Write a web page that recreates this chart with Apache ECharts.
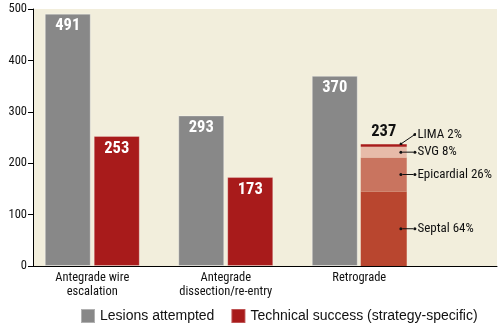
<!DOCTYPE html>
<html><head><meta charset="utf-8">
<script src="https://cdn.jsdelivr.net/npm/echarts@6/dist/echarts.min.js"></script>
<style>html,body{margin:0;padding:0;background:#fff}#c{width:502px;height:329px}</style>
</head><body><div id="c"></div>
<script>
// ---- data ----
const categories = ['Antegrade wire\nescalation', 'Antegrade\ndissection/re-entry', 'Retrograde'];
const lesionsAttempted = [491, 293, 370];
const technicalSuccess = [253, 173, 237];
const retroSegmentNames = ['Septal 64%', 'Epicardial 26%', 'SVG 8%', 'LIMA 2%'];
const retroSegmentValues = [145, 66, 21, 5];
const yTickMin = 0, yTickMax = 500, yTickStep = 100;

// ---- style ----
const NARROW = '"Roboto Condensed","DejaVu Sans Condensed",sans-serif';
const REG = '"Liberation Sans",Arial,sans-serif';
const GRAY = '#888888', RED = '#a81b1b', BG = '#f2eedc';
const segColors = ['#b9462f', '#c9745f', '#e7bba9', '#a81b1b'];

const diagSvg = 'data:image/svg+xml;utf8,' + encodeURIComponent(
  '<svg xmlns="http://www.w3.org/2000/svg" width="17" height="22">' +
  '<line x1="1.5" y1="20.5" x2="15.5" y2="11" stroke="#111" stroke-width="1"/>' +
  '<circle cx="1.5" cy="20.5" r="1.5" fill="#111"/><circle cx="15.5" cy="11" r="1.5" fill="#111"/></svg>');

const richCommon = {
  dot: {width: 3, height: 3, borderRadius: 1.5, backgroundColor: '#111', verticalAlign: 'middle'},
  ln: {width: 11, height: 1, backgroundColor: '#111', verticalAlign: 'middle'},
  t: {fontFamily: NARROW, fontSize: 13, color: '#111', padding: [0, 0, 0, 1], verticalAlign: 'middle', lineHeight: 16},
  diag: {width: 17, height: 22, backgroundColor: {image: diagSvg}, verticalAlign: 'middle'}
};

const chart = echarts.init(document.getElementById('c'), null, {renderer: 'canvas'});

const segSeries = retroSegmentNames.map((nm, i) => ({
  name: nm, type: 'bar', xAxisIndex: 1, yAxisIndex: 1, stack: 'ts',
  barWidth: 46, barGap: '6.5%',
  data: categories.map((c, k) => k === 2 ? retroSegmentValues[i] : '-'),
  itemStyle: {color: segColors[i]},
  label: i === 3 ? {
    show: true, position: ['84%', '50%'], align: 'left', verticalAlign: 'bottom',
    formatter: '{diag|}{t|' + nm + '}', rich: richCommon
  } : {
    show: true, position: ['84%', '50%'], align: 'left', verticalAlign: 'middle',
    formatter: '{dot|}{ln|}{dot|}{t|' + nm + '}', rich: richCommon
  },
  emphasis: {disabled: true}
}));

const valueLabel = {show: true, position: 'insideTop', distance: 4, color: '#fff', fontFamily: NARROW, fontWeight: 'bold', fontSize: 16.5};

chart.setOption({
  animation: false,
  grid: [
    {left: 33, right: 5, top: 9, bottom: 63, show: true, backgroundColor: BG, borderWidth: 0},
    {left: 25.5, width: 400.5, top: 9, bottom: 63}
  ],
  xAxis: [
    {gridIndex: 0, type: 'category', data: [''], z: 5,
     axisLine: {lineStyle: {color: '#000', width: 1}}, axisTick: {show: false}, axisLabel: {show: false}},
    {gridIndex: 1, type: 'category', data: categories,
     axisLine: {show: false}, axisTick: {show: false},
     axisLabel: {fontFamily: NARROW, fontSize: 12.5, color: '#111', lineHeight: 14, margin: 5, interval: 0}}
  ],
  yAxis: [
    {gridIndex: 0, type: 'value', min: yTickMin, max: yTickMax, interval: yTickStep, z: 5,
     axisLine: {show: true, lineStyle: {color: '#000', width: 1}},
     axisTick: {show: true, length: 5, lineStyle: {color: '#000'}},
     axisLabel: {fontFamily: NARROW, fontSize: 12.5, color: '#111', margin: 6},
     splitLine: {show: false}},
    {gridIndex: 1, type: 'value', min: yTickMin, max: yTickMax, interval: yTickStep, show: false, splitLine: {show: false}}
  ],
  legend: {
    left: 80, top: 308, itemWidth: 14, itemHeight: 14, itemGap: 16, padding: 0,
    icon: 'rect', data: ['Lesions attempted', 'Technical success (strategy-specific)'],
    textStyle: {fontFamily: REG, fontSize: 14, color: '#111'}, selectedMode: false
  },
  series: [
    {name: 'Lesions attempted', type: 'bar', xAxisIndex: 1, yAxisIndex: 1, barWidth: 46, barGap: '6.5%',
     data: lesionsAttempted, itemStyle: {color: GRAY, borderColor: 'rgba(255,255,255,0.35)', borderWidth: 1},
     label: valueLabel, emphasis: {disabled: true}},
    {name: 'Technical success (strategy-specific)', type: 'bar', xAxisIndex: 1, yAxisIndex: 1, stack: 'ts',
     barWidth: 46, barGap: '6.5%',
     data: technicalSuccess.map((v, k) => k === 2 ? '-' : v),
     itemStyle: {color: RED, borderColor: 'rgba(255,255,255,0.25)', borderWidth: 1},
     label: valueLabel, emphasis: {disabled: true}},
    ...segSeries,
    {name: 'total', type: 'bar', xAxisIndex: 1, yAxisIndex: 1, stack: 'ts', barWidth: 46, barGap: '6.5%',
     data: categories.map((c, k) => k === 2 ? 0 : '-'),
     itemStyle: {color: 'transparent'},
     label: {show: true, position: 'top', distance: 4, color: '#111', fontFamily: NARROW, fontWeight: 'bold', fontSize: 16.5,
       formatter: p => String(technicalSuccess[p.dataIndex])},
     emphasis: {disabled: true}}
  ]
});
</script></body></html>
